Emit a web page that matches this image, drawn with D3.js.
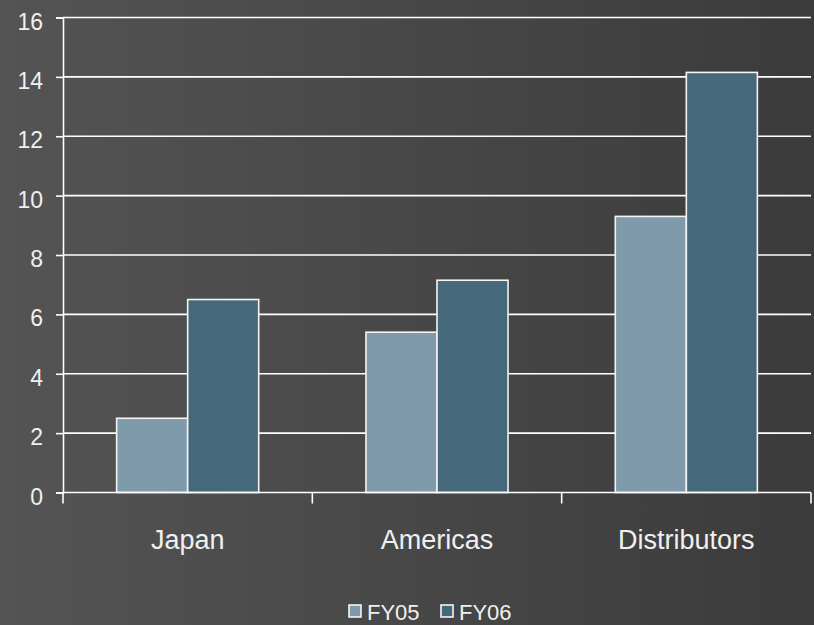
<!DOCTYPE html>
<html>
<head>
<meta charset="utf-8">
<script src="https://cdn.jsdelivr.net/npm/d3@7"></script>
<style>
  html, body { margin: 0; padding: 0; background: #444; }
  svg text { font-family: "Liberation Sans", Arial, sans-serif; fill: #f0f0f0; }
</style>
</head>
<body>
<div id="chart"></div>
<script>
// Chart data
const regions = ["Japan", "Americas", "Distributors"];
const seriesNames = ["FY05", "FY06"];
const fy05 = [2.5, 5.4, 9.3];
const fy06 = [6.5, 7.15, 14.15];
const yTicks = [0, 2, 4, 6, 8, 10, 12, 14, 16];
const colors = ["#7f9aab", "#46687b"];

const width = 814, height = 625;
const margin = { top: 17.5, right: 3, bottom: 132.5, left: 63 };

const svg = d3.select("#chart").append("svg")
  .attr("width", width)
  .attr("height", height);

// Background gradient
const grad = svg.append("defs").append("linearGradient")
  .attr("id", "bg").attr("x1", "0%").attr("x2", "100%").attr("y1", "0%").attr("y2", "0%");
grad.append("stop").attr("offset", "0%").attr("stop-color", "#545454");
grad.append("stop").attr("offset", "100%").attr("stop-color", "#3b3b3b");
svg.append("rect").attr("width", width).attr("height", height).attr("fill", "url(#bg)");

const x0 = d3.scaleBand().domain(regions).range([margin.left, width - margin.right]).paddingInner(0).paddingOuter(0);
const x1 = d3.scaleBand().domain(seriesNames).range([0, x0.bandwidth()]).paddingInner(0).paddingOuter(0.755);
const y = d3.scaleLinear().domain([0, 16]).range([height - margin.bottom, margin.top]);

// Gridlines
svg.append("g")
  .selectAll("line")
  .data(yTicks.slice(1))
  .enter().append("line")
  .attr("x1", margin.left).attr("x2", width - margin.right)
  .attr("y1", d => y(d)).attr("y2", d => y(d))
  .attr("stroke", "#ffffff").attr("stroke-width", 1.6);

// Bars
const rows = regions.map((r, i) => ({ region: r, values: [fy05[i], fy06[i]] }));
svg.append("g")
  .selectAll("g")
  .data(rows)
  .enter().append("g")
  .attr("transform", d => `translate(${x0(d.region)},0)`)
  .selectAll("rect")
  .data(d => d.values.map((v, j) => ({ key: seriesNames[j], value: v, idx: j })))
  .enter().append("rect")
  .attr("x", d => x1(d.key))
  .attr("y", d => y(d.value))
  .attr("width", x1.bandwidth())
  .attr("height", d => y(0) - y(d.value))
  .attr("fill", d => colors[d.idx])
  .attr("stroke", "#f4f4f4")
  .attr("stroke-width", 1.6);

// Y axis
const yAxis = svg.append("g")
  .attr("transform", `translate(${margin.left},0)`)
  .call(d3.axisLeft(y).tickValues(yTicks).tickSize(7).tickPadding(13));
yAxis.select(".domain").attr("stroke", "#fff").attr("stroke-width", 1.6);
yAxis.selectAll(".tick line").attr("stroke", "#fff").attr("stroke-width", 1.6);
yAxis.selectAll("text").style("font-size", "23px").attr("dy", "0.5em").attr("fill", "#f0f0f0");

// X axis
const xAxis = svg.append("g")
  .attr("transform", `translate(0,${y(0)})`)
  .call(d3.axisBottom(x0).tickSize(0));
xAxis.select(".domain").remove();
xAxis.selectAll("text").style("font-size", "27px").attr("y", 56).attr("dy", 0).attr("fill", "#f0f0f0");
svg.append("line")
  .attr("x1", margin.left).attr("x2", width - margin.right)
  .attr("y1", y(0)).attr("y2", y(0))
  .attr("stroke", "#fff").attr("stroke-width", 1.6);
svg.append("g")
  .selectAll("line")
  .data(d3.range(regions.length + 1))
  .enter().append("line")
  .attr("x1", i => margin.left + i * x0.bandwidth())
  .attr("x2", i => margin.left + i * x0.bandwidth())
  .attr("y1", y(0)).attr("y2", y(0) + 11)
  .attr("stroke", "#fff").attr("stroke-width", 1.6);

// Legend
const legend = svg.append("g").attr("transform", "translate(348,604)");
const lx = [0, 92];
seriesNames.forEach((s, i) => {
  legend.append("rect")
    .attr("x", lx[i] + 1).attr("y", 1)
    .attr("width", 12).attr("height", 12)
    .attr("fill", colors[i]).attr("stroke", "#f4f4f4").attr("stroke-width", 1.6);
  legend.append("text")
    .attr("x", lx[i] + 19).attr("y", 16)
    .style("font-size", "22px")
    .text(s);
});
</script>
</body>
</html>
